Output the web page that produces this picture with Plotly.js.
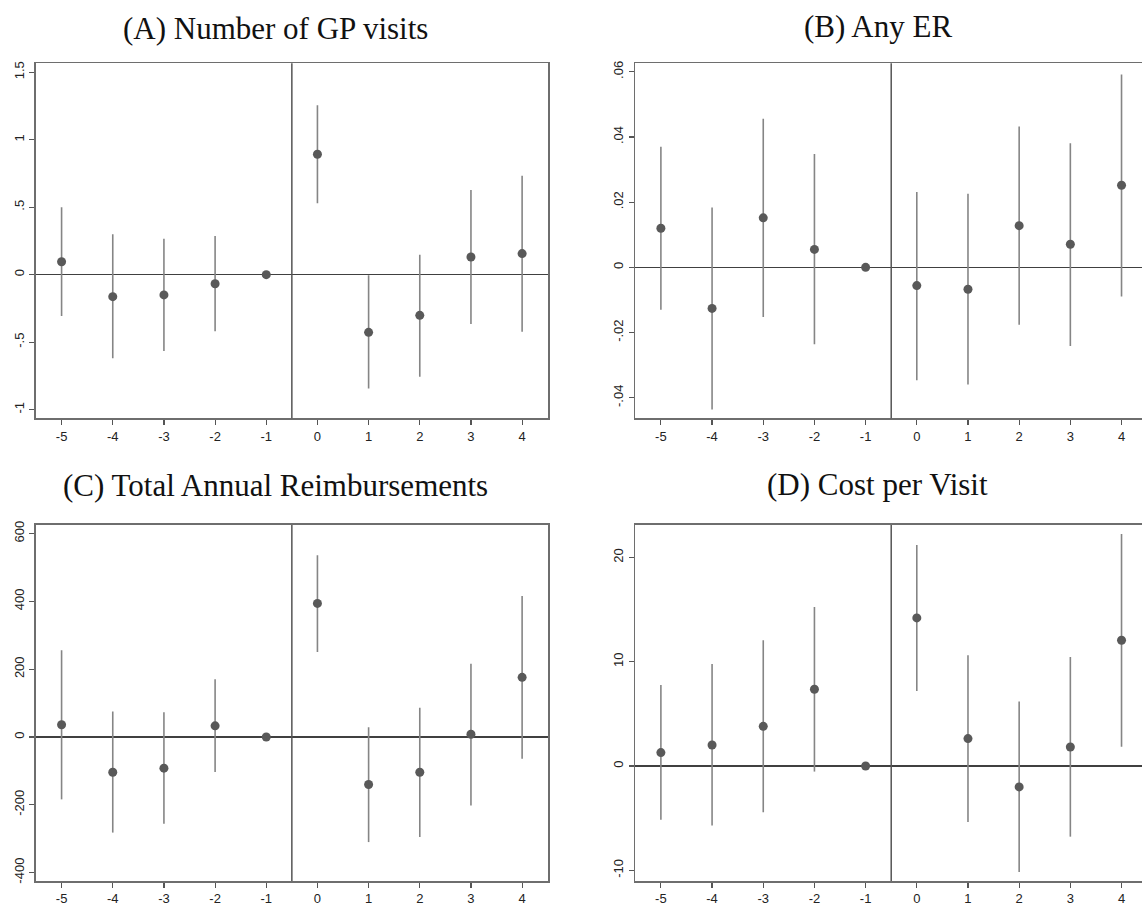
<!DOCTYPE html>
<html>
<head>
<meta charset="utf-8">
<script src="https://cdn.plot.ly/plotly-3.0.1.min.js"></script>
<style>
html,body{margin:0;padding:0;background:#fff;}
#chart{width:1142px;height:907px;}
</style>
</head>
<body>
<div id="chart"></div>
<script>
// Event-time periods
const periods = [-5, -4, -3, -2, -1, 0, 1, 2, 3, 4];
const xTickText = ['-5', '-4', '-3', '-2', '-1', '0', '1', '2', '3', '4'];

// (A) Number of GP visits
const gpEst = [0.096, -0.163, -0.150, -0.067, 0, 0.892, -0.427, -0.301, 0.131, 0.156];
const gpLo  = [-0.306, -0.619, -0.565, -0.420, 0, 0.529, -0.844, -0.756, -0.365, -0.422];
const gpHi  = [0.499, 0.299, 0.267, 0.287, 0, 1.255, -0.005, 0.148, 0.627, 0.733];
const gpTicks = [-1, -0.5, 0, 0.5, 1, 1.5];
const gpTickText = ['-1', '-.5', '0', '.5', '1', '1.5'];

// (B) Any ER
const erEst = [0.0120, -0.0126, 0.0152, 0.0055, 0, -0.0056, -0.0067, 0.0128, 0.0071, 0.0252];
const erLo  = [-0.0130, -0.0436, -0.0152, -0.0236, 0, -0.0346, -0.0359, -0.0176, -0.0241, -0.0089];
const erHi  = [0.0370, 0.0184, 0.0456, 0.0348, 0, 0.0231, 0.0226, 0.0432, 0.0381, 0.0592];
const erTicks = [-0.04, -0.02, 0, 0.02, 0.04, 0.06];
const erTickText = ['-.04', '-.02', '0', '.02', '.04', '.06'];

// (C) Total Annual Reimbursements
const reEst = [36, -104, -92, 33, 0, 394, -140, -104, 8, 176];
const reLo  = [-184, -282, -256, -103, 0, 251, -310, -295, -202, -64];
const reHi  = [256, 75, 73, 170, 0, 536, 29, 86, 216, 416];
const reTicks = [-400, -200, 0, 200, 400, 600];
const reTickText = ['-400', '-200', '0', '200', '400', '600'];

// (D) Cost per Visit
const cvEst = [1.28, 2.01, 3.80, 7.35, 0, 14.19, 2.62, -2.01, 1.82, 12.05];
const cvLo  = [-5.15, -5.72, -4.44, -0.54, 0, 7.19, -5.37, -10.16, -6.78, 1.85];
const cvHi  = [7.77, 9.78, 12.05, 15.24, 0, 21.19, 10.61, 6.17, 10.45, 22.24];
const cvTicks = [-10, 0, 10, 20];
const cvTickText = ['-10', '0', '10', '20'];

const titles = ['(A) Number of GP visits', '(B) Any ER', '(C) Total Annual Reimbursements', '(D) Cost per Visit'];

const W = 1142, H = 907;
const px = v => v / W;
const py = v => 1 - v / H;

const markerColor = '#595959';
const ciColor = '#858585';

function trace(est, lo, hi, ax) {
  return {
    type: 'scatter', mode: 'markers',
    x: periods, y: est,
    xaxis: 'x' + ax, yaxis: 'y' + ax,
    marker: {color: markerColor, size: 9},
    error_y: {
      type: 'data', symmetric: false,
      array: hi.map((h, i) => h - est[i]),
      arrayminus: lo.map((l, i) => est[i] - l),
      width: 0, thickness: 1.6, color: ciColor
    },
    hoverinfo: 'x+y', showlegend: false
  };
}

const data = [
  trace(gpEst, gpLo, gpHi, ''),
  trace(erEst, erLo, erHi, '2'),
  trace(reEst, reLo, reHi, '3'),
  trace(cvEst, cvLo, cvHi, '4')
];

const tickFont = {family: 'Liberation Sans, Arial, sans-serif', size: 13, color: '#222'};
const frameColor = '#6e6e6e';

function xax(domain, range, anchor) {
  return {
    domain: domain, range: range, anchor: anchor,
    tickmode: 'array', tickvals: periods, ticktext: xTickText,
    ticks: 'outside', ticklen: 5, tickwidth: 1.2, tickcolor: '#555',
    tickfont: tickFont,
    showline: true, linecolor: frameColor, linewidth: 1.8, mirror: true,
    showgrid: false, zeroline: false, fixedrange: true
  };
}
function yax(domain, range, anchor, vals, text, mirror) {
  return {
    domain: domain, range: range, anchor: anchor,
    tickmode: 'array', tickvals: vals, ticktext: text,
    ticks: 'outside', ticklen: 5, tickwidth: 1.2, tickcolor: '#555',
    tickfont: tickFont, tickangle: -90,
    showline: true, linecolor: frameColor, linewidth: 1.8, mirror: mirror,
    showgrid: false, zeroline: true, zerolinecolor: '#404040', zerolinewidth: 1.3,
    fixedrange: true
  };
}

const leftX = [px(36), px(547.7)];
const rightX = [px(635.3), 1];
const topY = [py(418.3), py(63.3)];
const botY = [py(881), py(525)];

function vline(ax) {
  return {
    type: 'line', xref: 'x' + ax, yref: 'y' + ax + ' domain',
    x0: -0.5, x1: -0.5, y0: 0, y1: 1,
    line: {color: '#555', width: 1.5}
  };
}

const titleFont = {family: 'Liberation Serif, Times New Roman, serif', size: 31, color: '#111'};
function ann(text, x, y) {
  return {
    text: text, xref: 'paper', yref: 'paper', x: px(x), y: py(y),
    xanchor: 'center', yanchor: 'middle', showarrow: false, font: titleFont
  };
}

const layout = {
  width: W, height: H,
  margin: {l: 0, r: 0, t: 0, b: 0},
  paper_bgcolor: '#fff', plot_bgcolor: '#fff',
  xaxis: xax(leftX, [-5.5, 4.5], 'y'),
  yaxis: yax(topY, [-1.064, 1.566], 'x', gpTicks, gpTickText, true),
  xaxis2: xax(rightX, [-5.5, 4.4], 'y2'),
  yaxis2: yax(topY, [-0.0463, 0.0626], 'x2', erTicks, erTickText, false),
  xaxis3: xax(leftX, [-5.5, 4.5], 'y3'),
  yaxis3: yax(botY, [-424.8, 625.4], 'x3', reTicks, reTickText, true),
  xaxis4: xax(rightX, [-5.5, 4.4], 'y4'),
  yaxis4: yax(botY, [-11.03, 23.1], 'x4', cvTicks, cvTickText, false),
  shapes: [vline(''), vline('2'), vline('3'), vline('4')],
  annotations: [
    ann(titles[0], 275, 28),
    ann(titles[1], 878, 26),
    ann(titles[2], 275, 485),
    ann(titles[3], 877, 484)
  ]
};

Plotly.newPlot('chart', data, layout, {displayModeBar: false, staticPlot: true});
</script>
</body>
</html>
